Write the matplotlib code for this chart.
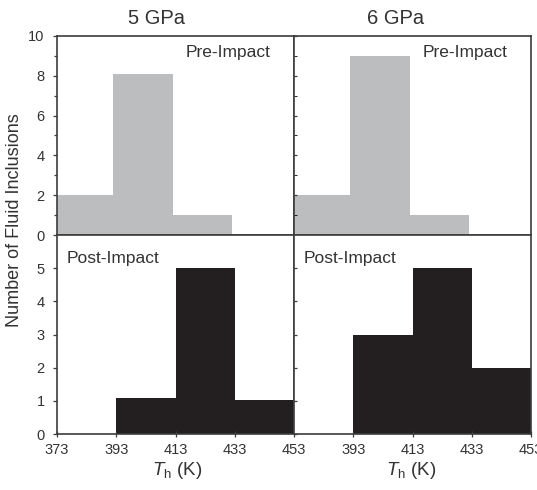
import matplotlib
matplotlib.use("Agg")
import matplotlib.pyplot as plt
import numpy as np

plt.rcParams['font.family'] = ['Liberation Sans', 'DejaVu Sans']
plt.rcParams['mathtext.fontset'] = 'custom'
plt.rcParams['mathtext.rm'] = 'Liberation Sans'
plt.rcParams['mathtext.it'] = 'Liberation Sans:italic'

# ---- data ----
panel_titles = ["5 GPa", "6 GPa"]
pre5_edges = [373, 392, 412, 432]
pre5_counts = [2, 8.1, 1]
pre6_edges = [373, 392, 412, 432]
pre6_counts = [2, 9, 1]
post5_edges = [393, 413, 433, 453]
post5_counts = [1.08, 5, 1.03]
post6_edges = [393, 413, 433, 453]
post6_counts = [3, 5, 2]
x_ticks_left = [373, 393, 413, 433, 453]
x_ticks_right = [393, 413, 433, 453]
top_yticks = [0, 2, 4, 6, 8, 10]
bot_yticks = [0, 1, 2, 3, 4, 5]

GRAY = '#bcbdbf'
BLACK = '#231f20'
SPINE = '#3c3c3c'
TXT = '#333333'

fig = plt.figure(figsize=(5.37, 4.90), dpi=100)
W, H = 537, 490
def rect(x0, x1, y0, y1):
    return [x0 / W, 1 - y1 / H, (x1 - x0) / W, (y1 - y0) / H]

ax_tl = fig.add_axes(rect(57, 294, 36, 235))
ax_tr = fig.add_axes(rect(294, 531, 36, 235))
ax_bl = fig.add_axes(rect(57, 294, 235, 434))
ax_br = fig.add_axes(rect(294, 531, 235, 434))

def draw(ax, edges, counts, color):
    edges = np.asarray(edges, dtype=float)
    ax.bar(edges[:-1], counts, width=np.diff(edges), align='edge',
           color=color, edgecolor='none', linewidth=0, zorder=1)

draw(ax_tl, pre5_edges, pre5_counts, GRAY)
draw(ax_tr, pre6_edges, pre6_counts, GRAY)
draw(ax_bl, post5_edges, post5_counts, BLACK)
draw(ax_br, post6_edges, post6_counts, BLACK)

for ax in (ax_tl, ax_tr, ax_bl, ax_br):
    ax.set_xlim(373, 453)
    for s in ax.spines.values():
        s.set_color(SPINE)
        s.set_linewidth(1.2)
        s.set_zorder(3)
    ax.tick_params(colors=SPINE, labelcolor=TXT, labelsize=10.5, width=0.9)

for ax in (ax_tl, ax_tr):
    ax.set_ylim(0, 10)
    ax.set_yticks(top_yticks)
    ax.set_yticks([1, 3, 5, 7, 9], minor=True)
    ax.set_xticks([])
for ax in (ax_bl, ax_br):
    ax.set_ylim(0, 6)
    ax.set_yticks(bot_yticks)

ax_tl.tick_params(axis='y', which='major', direction='out', length=3, pad=6)
ax_tl.tick_params(axis='y', which='minor', direction='out', length=2.5, width=0.9, colors=SPINE)
ax_bl.tick_params(axis='y', direction='out', length=3, pad=6)
ax_tr.tick_params(axis='y', which='both', direction='in', length=2.5, labelleft=False)
ax_br.tick_params(axis='y', direction='in', length=2.5, labelleft=False)

ax_bl.set_xticks(x_ticks_left)
ax_br.set_xticks(x_ticks_right)
for ax in (ax_bl, ax_br):
    ax.tick_params(axis='x', direction='inout', length=5, pad=4)

# titles
ax_tl.text(0.42, 1.0 + 18 / 199, panel_titles[0], transform=ax_tl.transAxes,
           ha='center', va='center', fontsize=14.5, color=TXT)
ax_tr.text(0.43, 1.0 + 18 / 199, panel_titles[1], transform=ax_tr.transAxes,
           ha='center', va='center', fontsize=14.5, color=TXT)

# panel labels
ax_tl.text(0.90, 0.915, "Pre-Impact", transform=ax_tl.transAxes,
           ha='right', va='center', fontsize=12.5, color=TXT)
ax_tr.text(0.90, 0.915, "Pre-Impact", transform=ax_tr.transAxes,
           ha='right', va='center', fontsize=12.5, color=TXT)
ax_bl.text(0.042, 0.884, "Post-Impact", transform=ax_bl.transAxes,
           ha='left', va='center', fontsize=12.5, color=TXT)
ax_br.text(0.042, 0.884, "Post-Impact", transform=ax_br.transAxes,
           ha='left', va='center', fontsize=12.5, color=TXT)

# axis labels
fig.text(15 / W, 1 - 220 / H, "Number of Fluid Inclusions", rotation=90,
         ha='center', va='center', fontsize=13, color=TXT)
fig.text(177 / W, 1 - 470 / H, r"$T_\mathrm{h}$ (K)", ha='center', va='center',
         fontsize=13.5, color=TXT)
fig.text(411 / W, 1 - 470 / H, r"$T_\mathrm{h}$ (K)", ha='center', va='center',
         fontsize=13.5, color=TXT)

fig.savefig("out.png", dpi=100)
